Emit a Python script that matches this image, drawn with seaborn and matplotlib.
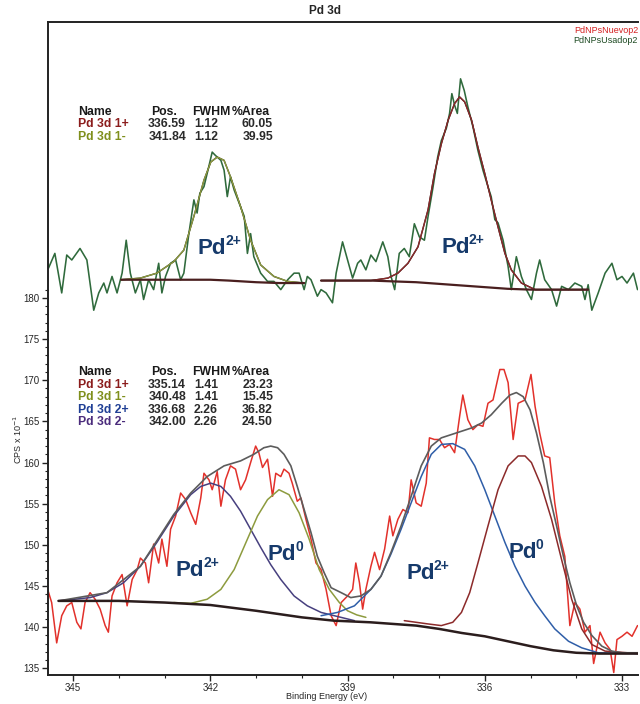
import matplotlib
matplotlib.use("Agg")
import matplotlib.pyplot as plt
import seaborn as sns
from matplotlib.ticker import MultipleLocator

# ---- raw spectra (binding energy eV, CPS x 10^-1) ----
used_x = [345.54, 345.40, 345.25, 345.14, 345.03, 344.85, 344.70, 344.55, 344.44, 344.33,
          344.26, 344.15, 344.04, 343.93, 343.84, 343.75, 343.64, 343.53, 343.46, 343.35,
          343.24, 343.13, 343.06, 342.98, 342.87, 342.76, 342.65, 342.58, 342.47, 342.36,
          342.29, 342.23, 342.14, 342.07, 341.96, 341.89, 341.77, 341.70, 341.63, 341.56,
          341.48, 341.37, 341.26, 341.19, 341.12, 341.05, 340.90, 340.75, 340.61, 340.46,
          340.31, 340.17, 340.06, 339.95, 339.88, 339.80, 339.66,
          339.58, 339.47, 339.33, 339.25, 339.11, 339.00, 338.89, 338.78, 338.71, 338.60,
          338.49, 338.38, 338.23, 338.12, 338.05, 337.97, 337.87, 337.76, 337.65, 337.54,
          337.43, 337.32, 337.24, 337.13, 337.03, 336.95, 336.84, 336.77, 336.72, 336.66,
          336.60, 336.53, 336.45, 336.37, 336.26, 336.15, 336.04, 335.93, 335.86, 335.78,
          335.71, 335.60, 335.49, 335.42, 335.31, 335.20, 335.09, 334.98, 334.87, 334.80,
          334.69, 334.54, 334.43, 334.32, 334.17, 334.03, 333.88, 333.81, 333.74, 333.66,
          333.52, 333.37, 333.22, 333.11, 333.00, 332.89, 332.75, 332.66]
used_y = [183.6, 185.4, 180.6, 185.2, 184.6, 186.0, 184.6, 178.5, 180.6, 181.8,
          180.6, 182.6, 180.6, 183.0, 187.0, 183.0, 180.6, 182.2, 179.8, 182.2,
          181.0, 184.2, 180.6, 182.6, 184.2, 184.6, 182.2, 183.0, 187.8, 191.9,
          190.3, 192.7, 193.5, 195.1, 197.7, 197.3, 196.7, 195.5, 192.3, 194.7,
          193.1, 191.5, 189.9, 185.4, 187.8, 185.0, 183.0, 182.0, 182.0, 181.0,
          182.2, 183.0, 183.0, 181.0, 182.6, 182.2, 180.2,
          181.0, 180.6, 179.4, 183.0, 186.8, 184.6, 182.4, 184.2, 184.6, 183.4,
          185.2, 184.4, 186.8, 185.0, 182.6, 181.0, 185.4, 186.0, 185.0, 189.0,
          187.4, 187.0, 189.9, 193.5, 197.1, 199.1, 200.6, 202.4, 204.8, 203.4,
          202.4, 206.6, 205.2, 203.2, 200.8, 197.9, 195.5, 193.5, 192.3, 189.5,
          189.1, 187.0, 183.8, 181.0, 185.0, 182.6, 181.0, 179.8, 183.0, 184.6,
          182.2, 181.0, 179.0, 181.4, 181.0, 181.8, 181.4, 179.8, 181.6, 178.5,
          180.6, 183.0, 184.2, 182.2, 182.6, 181.8, 183.0, 181.0]

new_x = [345.58, 345.47, 345.36, 345.25, 345.14, 345.03, 344.92, 344.83, 344.74, 344.63,
         344.52, 344.41, 344.30, 344.23, 344.15, 344.04, 343.93, 343.82, 343.71, 343.60,
         343.53, 343.42, 343.35, 343.24, 343.13, 343.06, 342.95, 342.87, 342.76, 342.65,
         342.54, 342.43, 342.32, 342.21, 342.14, 342.03, 341.96, 341.85, 341.77, 341.67,
         341.56, 341.45, 341.34, 341.23, 341.12, 341.01, 340.94, 340.86, 340.75, 340.64,
         340.57, 340.46, 340.39, 340.28, 340.21, 340.10, 340.02, 339.91, 339.80, 339.69,
         339.58, 339.47, 339.36, 339.25, 339.14, 339.00, 338.89, 338.82, 338.74, 338.67,
         338.60, 338.49, 338.41, 338.30, 338.19, 338.08, 338.01, 337.90, 337.79, 337.68,
         337.61, 337.50, 337.39, 337.28, 337.21, 337.10, 336.99, 336.88, 336.77, 336.66,
         336.55, 336.48, 336.37, 336.26, 336.15, 336.04, 335.93, 335.82, 335.75, 335.67,
         335.58, 335.49, 335.38, 335.27, 335.12, 334.99, 334.90, 334.80, 334.69, 334.58,
         334.47, 334.36, 334.25, 334.14, 334.03, 333.92, 333.81, 333.70, 333.62, 333.48,
         333.37, 333.26, 333.18, 333.11, 333.00, 332.89, 332.78, 332.66]
new_y = [145.0, 143.0, 138.1, 141.4, 142.6, 143.0, 140.6, 139.8, 143.0, 144.2,
         143.4, 142.2, 140.2, 139.4, 143.8, 145.4, 146.4, 142.6, 145.8, 147.0,
         148.4, 147.8, 145.4, 150.1, 147.8, 150.7, 147.4, 151.9, 153.5, 156.3,
         155.5, 153.9, 152.5, 155.7, 158.7, 157.9, 156.7, 158.9, 154.7, 157.9,
         159.6, 159.2, 156.7, 157.9, 160.0, 162.0, 161.2, 159.4, 160.4, 155.9,
         158.7, 158.3, 159.2, 158.7, 157.5, 155.3, 155.7, 153.1, 150.7, 147.8,
         147.0, 144.6, 141.4, 140.2, 143.0, 143.8, 144.6, 147.8, 145.4, 142.2,
         144.6, 147.4, 149.1, 147.0, 149.5, 153.5, 151.1, 153.1, 154.3, 153.9,
         157.9, 155.1, 154.7, 157.5, 163.0, 162.8, 162.8, 161.8, 162.2, 161.2,
         165.6, 168.2, 165.2, 164.0, 164.6, 164.4, 167.2, 167.6, 169.3, 171.3,
         171.3, 169.7, 162.8, 167.2, 167.6, 170.7, 166.8, 163.6, 160.8, 160.6,
         155.1, 151.1, 148.6, 140.2, 143.0, 142.2, 139.4, 140.2, 135.6, 139.4,
         138.1, 137.3, 134.5, 138.5, 138.9, 139.4, 138.9, 140.2]

# ---- top fit (PdNPsUsadop2) ----
top_bg_left_x = [343.95, 343.0, 342.0, 341.6, 341.0, 340.5, 339.95]
top_bg_left_y = [182.2, 182.2, 182.2, 182.1, 181.9, 181.8, 181.8]
top_bg_right_x = [339.58, 338.5, 338.0, 337.5, 337.0, 336.5, 336.0, 335.5, 335.0, 334.5, 333.74]
top_bg_right_y = [182.1, 182.1, 182.0, 181.9, 181.7, 181.5, 181.3, 181.1, 181.0, 181.0, 181.0]
top_c1m_x = [343.95, 343.53, 343.17, 342.80, 342.58, 342.36, 342.14, 341.99, 341.85, 341.70,
             341.56, 341.34, 341.12, 340.90, 340.61, 340.31, 339.95]
top_c1m_y = [182.2, 182.4, 183.0, 184.4, 185.8, 189.9, 194.3, 196.5, 197.1, 196.7,
             194.7, 191.1, 187.0, 184.0, 182.6, 182.0, 181.8]
top_c1p_x = [339.58, 338.49, 338.12, 337.90, 337.68, 337.46, 337.24, 337.10, 336.95, 336.80,
             336.66, 336.55, 336.44, 336.29, 336.15, 336.00, 335.86, 335.71, 335.56, 335.42,
             335.20, 334.90, 334.47, 333.74]
top_c1p_y = [182.1, 182.1, 182.4, 183.0, 184.2, 186.2, 190.7, 195.1, 198.7, 201.6,
             203.6, 204.4, 203.8, 201.6, 198.3, 195.1, 191.9, 188.6, 185.4, 183.4,
             181.8, 181.0, 181.0, 181.0]

# ---- bottom fit (PdNPsNuevop2) ----
bg_x = [345.32, 344.0, 343.0, 342.0, 341.0, 340.0, 339.3, 338.5, 337.5, 337.0,
        336.5, 336.0, 335.5, 335.0, 334.5, 334.0, 333.5, 332.64]
bg_y = [143.2, 143.2, 143.0, 142.7, 142.0, 141.2, 140.8, 140.6, 140.2, 139.8,
        139.3, 138.9, 138.3, 137.7, 137.2, 136.9, 136.8, 136.8]
c2m_x = [345.32, 344.63, 344.26, 343.90, 343.53, 343.17, 342.80, 342.43, 342.21, 341.99,
         341.77, 341.56, 341.34, 341.12, 340.90, 340.68, 340.46, 340.17, 339.88, 339.58,
         339.29, 338.85]
c2m_y = [143.2, 143.6, 144.2, 145.4, 147.4, 150.3, 153.5, 156.1, 157.1, 157.5,
         157.1, 155.9, 154.1, 151.9, 149.7, 147.6, 145.8, 143.8, 142.6, 141.8,
         141.4, 140.8]
c1m_x = [342.80, 342.43, 342.07, 341.77, 341.48, 341.19, 340.97, 340.75, 340.50, 340.28,
         340.06, 339.84, 339.62, 339.40, 339.18, 339.00, 338.80, 338.60]
c1m_y = [143.0, 142.9, 143.4, 144.6, 147.0, 150.7, 153.5, 155.5, 156.7, 156.1,
         153.9, 150.7, 147.0, 144.6, 143.0, 142.0, 141.5, 141.2]
c2p_x = [339.58, 339.22, 338.85, 338.49, 338.27, 338.05, 337.83, 337.61, 337.39, 337.17,
         336.95, 336.70, 336.44, 336.22, 336.00, 335.78, 335.56, 335.34, 335.12, 334.90,
         334.69, 334.47, 334.17, 333.88, 333.52, 332.64]
c2p_y = [141.4, 141.8, 142.6, 144.6, 146.2, 148.9, 151.9, 155.1, 158.3, 161.0,
         162.2, 162.3, 161.6, 159.6, 156.7, 153.5, 150.3, 147.4, 145.0, 143.0,
         141.4, 139.8, 138.3, 137.5, 136.9, 136.8]
c1p_x = [337.76, 337.24, 336.95, 336.70, 336.51, 336.33, 336.15, 335.93, 335.71, 335.49,
         335.27, 335.12, 334.98, 334.76, 334.54, 334.32, 334.10, 333.88, 333.66, 333.37,
         332.64]
c1p_y = [140.8, 140.4, 140.2, 140.6, 141.8, 144.2, 147.8, 152.3, 156.7, 159.6,
         160.8, 160.8, 160.0, 157.1, 153.1, 148.2, 143.4, 139.8, 137.9, 137.1,
         136.8]
env_x = [345.32, 344.26, 343.53, 342.80, 342.43, 342.07, 341.70, 341.34, 341.05, 340.83,
         340.68, 340.53, 340.39, 340.24, 340.10, 339.95, 339.80, 339.66, 339.51, 339.36,
         339.14, 338.93, 338.71, 338.49, 338.27, 338.05, 337.83, 337.61, 337.39, 337.17,
         336.95, 336.73, 336.51, 336.29, 336.07, 335.86, 335.63, 335.45, 335.31, 335.16,
         335.01, 334.87, 334.72, 334.58, 334.43, 334.28, 334.14, 333.99, 333.84, 333.66,
         333.44, 333.22, 333.00, 332.64]
env_y = [143.2, 144.2, 147.4, 153.7, 156.3, 158.3, 159.6, 160.2, 161.0, 161.8,
         162.0, 161.8, 161.0, 159.6, 157.1, 154.3, 151.5, 148.6, 146.6, 144.8,
         144.2, 143.6, 143.8, 144.6, 146.2, 149.1, 152.3, 155.9, 159.6, 162.0,
         163.0, 163.4, 163.8, 164.2, 164.8, 165.8, 167.2, 168.2, 168.5, 168.0,
         166.4, 163.6, 160.0, 155.9, 152.3, 148.6, 145.4, 142.6, 140.6, 139.0,
         137.7, 137.1, 136.9, 136.9]

# ---- tables / labels ----
table_header = ["Name", "Pos.", "FWHM", "%Area"]
top_names = ["Pd 3d 1+", "Pd 3d 1-"]
top_pos = ["336.59", "341.84"]
top_fwhm = ["1.12", "1.12"]
top_area = ["60.05", "39.95"]
bot_names = ["Pd 3d 1+", "Pd 3d 1-", "Pd 3d 2+", "Pd 3d 2-"]
bot_pos = ["335.14", "340.48", "336.68", "342.00"]
bot_fwhm = ["1.41", "1.41", "2.26", "2.26"]
bot_area = ["23.23", "15.45", "36.82", "24.50"]
peak_labels = [("Pd", "2+", 342.28, 185.3), ("Pd", "2+", 336.95, 185.5),
               ("Pd", "2+", 342.76, 146.2), ("Pd", "0", 340.75, 148.2),
               ("Pd", "2+", 337.72, 145.8), ("Pd", "0", 335.49, 148.4)]

C_RED = "#e2312b"
C_GREEN = "#2f6a3c"
C_1P = "#8c2a2a"
C_1M = "#8d9b3e"
C_2P = "#2f5ea8"
C_2M = "#47407f"
C_ENV = "#5c5c5c"
C_BG = "#2b1d1d"
C_TOPBG = "#4a1f1f"
C_LAB = "#163a6b"
name_colors = {"Pd 3d 1+": "#8b1c1c", "Pd 3d 1-": "#7f8f1c",
               "Pd 3d 2+": "#1f3f95", "Pd 3d 2-": "#4b2c7c"}

sns.set_style("ticks")
plt.rcParams["font.family"] = ["Liberation Sans", "DejaVu Sans"]

fig = plt.figure(figsize=(6.4, 7.04), dpi=100)
ax = fig.add_axes([48 / 640, 29 / 704, 590 / 640, 653 / 704])

def line(x, y, color, lw):
    sns.lineplot(x=x, y=y, ax=ax, color=color, lw=lw, estimator=None, sort=False)

# top spectrum
line(used_x, used_y, C_GREEN, 1.15)
line(top_c1m_x, top_c1m_y, "#222222", 1.0)
line(top_c1m_x, top_c1m_y, C_1M, 1.0)
line(top_c1p_x, top_c1p_y, "#222222", 1.0)
line(top_c1p_x, top_c1p_y, C_1P, 1.0)
line(top_bg_left_x, top_bg_left_y, C_TOPBG, 1.6)
line(top_bg_right_x, top_bg_right_y, C_TOPBG, 1.6)

# bottom spectrum
line(new_x, new_y, C_RED, 1.1)
line(c2m_x, c2m_y, C_2M, 1.1)
line(c1m_x, c1m_y, C_1M, 1.1)
line(c2p_x, c2p_y, C_2P, 1.1)
line(c1p_x, c1p_y, C_1P, 1.1)
line(env_x, env_y, C_ENV, 1.2)
line(bg_x, bg_y, C_BG, 1.8)

ax.set_xlim(345.55, 332.65)
ax.set_ylim(134.2, 213.5)
ax.set_xticks([345, 342, 339, 336, 333])
ax.xaxis.set_minor_locator(MultipleLocator(1))
ax.set_yticks(list(range(135, 181, 5)))
ax.set_yticks(list(range(135, 182)), minor=True)
ax.tick_params(axis="both", which="major", labelsize=7, length=4, width=1, pad=2, color="#222222")
ax.tick_params(axis="both", which="minor", length=2.5, width=0.8, color="#222222")
ax.set_xlabel("")
ax.set_ylabel("")
for s in ["left", "bottom", "top"]:
    ax.spines[s].set_linewidth(1.4)
    ax.spines[s].set_color("#222222")
ax.spines["right"].set_visible(False)

fig.text(0.508, 0.984, "Pd 3d", ha="center", va="center", fontsize=8.5, fontweight="bold")
fig.text(0.997, 0.957, "PdNPsNuevop2", ha="right", va="center", fontsize=6.5, color="#d42020")
fig.text(0.997, 0.942, "PdNPsUsadop2", ha="right", va="center", fontsize=6.5, color="#1d4a22")
fig.text(327 / 640, 0.010, "Binding Energy (eV)", ha="center", va="center", fontsize=6.5)
fig.text(18 / 640, 1 - 440 / 704, "CPS x 10$^{-1}$", ha="center", va="center",
         fontsize=6.5, rotation=90)

# fit tables (pixel positions -> figure fractions)
def table(y0, names, pos, fwhm, area):
    kw = dict(fontsize=8.8, fontweight="bold", va="baseline")
    ys = [y0 + 12.4 * i for i in range(len(names) + 1)]
    fy = [1 - v / 704 for v in ys]
    fig.text(78 / 640, fy[0], table_header[0], color="#1a1a1a", ha="left", **kw)
    fig.text(151 / 640, fy[0], table_header[1], color="#1a1a1a", ha="left", **kw)
    fig.text(192 / 640, fy[0], table_header[2], color="#1a1a1a", ha="left", **kw)
    fig.text(232 / 640, fy[0], table_header[3], color="#1a1a1a", ha="left", **kw)
    for i, n in enumerate(names):
        fig.text(78 / 640, fy[i + 1], n, color=name_colors[n], ha="left", **kw)
        fig.text(186 / 640, fy[i + 1], pos[i], color="#2a2a2a", ha="right", **kw)
        fig.text(206 / 640, fy[i + 1], fwhm[i], color="#2a2a2a", ha="center", **kw)
        fig.text(273 / 640, fy[i + 1], area[i], color="#2a2a2a", ha="right", **kw)

table(115, top_names, top_pos, top_fwhm, top_area)
table(375.5, bot_names, bot_pos, bot_fwhm, bot_area)

for base, sup, x, y in peak_labels:
    ax.annotate(base, (x, y), ha="left", va="baseline", fontsize=16,
                fontweight="bold", color=C_LAB)
    ax.annotate(sup, (x, y), xytext=(19.8, 6.5), textcoords="offset points",
                ha="left", va="baseline", fontsize=10, fontweight="bold", color=C_LAB)

fig.savefig("out.png", dpi=100)
